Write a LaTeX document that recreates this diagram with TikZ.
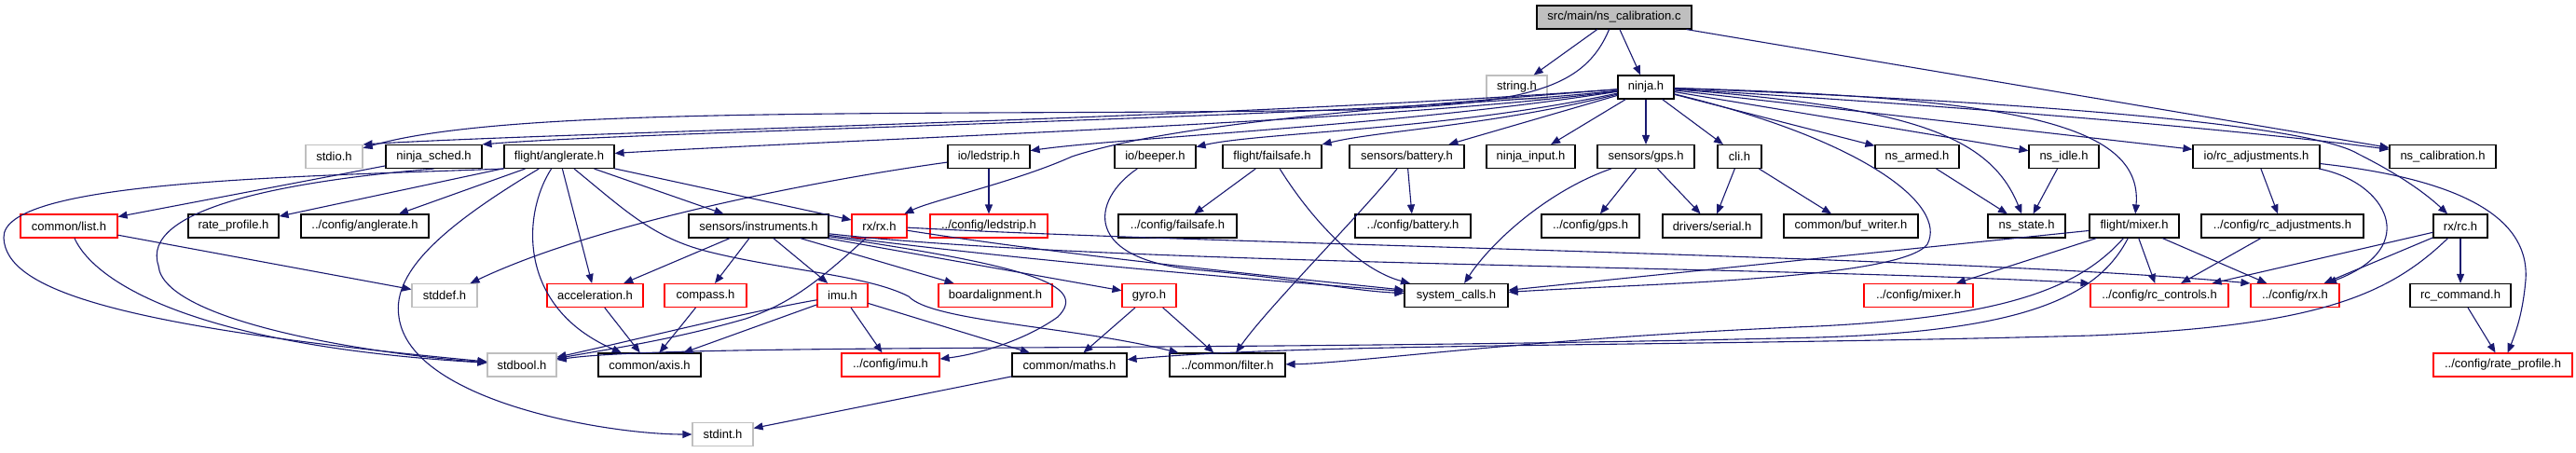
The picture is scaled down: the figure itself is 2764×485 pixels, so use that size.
\documentclass[tikz,border=0pt]{standalone}
\usepackage{fontspec}
\setmainfont{Liberation Sans}
\usetikzlibrary{arrows.meta}
\definecolor{dxedge}{HTML}{191970}
\definecolor{dxgray}{HTML}{BFBFBF}
\definecolor{dxred}{HTML}{FF0000}

\begin{document}
\begin{tikzpicture}[x=1pt, y=-1pt,
          hdr/.style={draw=black, fill=white, line width=1.1pt, minimum height=25pt, inner sep=0pt, font=\fontsize{13}{15}\selectfont},
          sys/.style={hdr, draw=dxgray},
          bad/.style={hdr, draw=dxred},
          dep/.style={draw=dxedge, line width=1.1pt, -{Triangle[length=10pt, width=8pt]}}]
  \useasboundingbox (0,0) rectangle (2764,485);

  \node[hdr, fill=dxgray, minimum width=166pt] (root) at (1732,18.5) {src/main/ns\_calibration.c};

  \node[sys, minimum width=65pt] (strh) at (1627.5,93.5) {string.h};
  \node[hdr, minimum width=60pt] (ninja) at (1766,93.5) {ninja.h};

  \node[sys, minimum width=61pt] (stdio) at (358.5,168) {stdio.h};
  \node[hdr, minimum width=103pt] (sched) at (465.5,168) {ninja\_sched.h};
  \node[hdr, minimum width=118pt] (anglerate) at (600,168) {flight/anglerate.h};
  \node[hdr, minimum width=88pt] (ledstrip) at (1061,168) {io/ledstrip.h};
  \node[hdr, minimum width=87pt] (beeper) at (1239.5,168) {io/beeper.h};
  \node[hdr, minimum width=106pt] (failsafe) at (1365,168) {flight/failsafe.h};
  \node[hdr, minimum width=123pt] (battery) at (1509.5,168) {sensors/battery.h};
  \node[hdr, minimum width=95pt] (input) at (1642.5,168) {ninja\_input.h};
  \node[hdr, minimum width=104pt] (gps) at (1766,168) {sensors/gps.h};
  \node[hdr, minimum width=47pt] (cli) at (1866.5,168) {cli.h};
  \node[hdr, minimum width=90pt] (armed) at (2057,168) {ns\_armed.h};
  \node[hdr, minimum width=75pt] (idle) at (2214.5,168) {ns\_idle.h};
  \node[hdr, minimum width=136pt] (rcadj) at (2421,168) {io/rc\_adjustments.h};
  \node[hdr, minimum width=114pt] (nscal) at (2621,168) {ns\_calibration.h};

  \node[bad, minimum width=104pt] (list) at (74,242.5) {common/list.h};
  \node[hdr, minimum width=97pt] (rateprof) at (250.5,242.5) {rate\_profile.h};
  \node[hdr, minimum width=137pt] (cfganglerate) at (391.5,242.5) {../config/anglerate.h};
  \node[hdr, minimum width=150pt] (instr) at (814,242.5) {sensors/instruments.h};
  \node[bad, minimum width=59pt] (rxrx) at (943.5,242.5) {rx/rx.h};
  \node[bad, minimum width=126pt] (cfgledstrip) at (1061,242.5) {../config/ledstrip.h};
  \node[hdr, minimum width=127pt] (cfgfailsafe) at (1263.5,242.5) {../config/failsafe.h};
  \node[hdr, minimum width=124pt] (cfgbattery) at (1516,242.5) {../config/battery.h};
  \node[hdr, minimum width=105pt] (cfggps) at (1706.5,242.5) {../config/gps.h};
  \node[hdr, minimum width=106pt] (serial) at (1837,242.5) {drivers/serial.h};
  \node[hdr, minimum width=144pt] (bufwriter) at (1986,242.5) {common/buf\_writer.h};
  \node[hdr, minimum width=83pt] (nsstate) at (2174.5,242.5) {ns\_state.h};
  \node[hdr, minimum width=96pt] (mixer) at (2290,242.5) {flight/mixer.h};
  \node[hdr, minimum width=174pt] (cfgrcadj) at (2449,242.5) {../config/rc\_adjustments.h};
  \node[hdr, minimum width=58pt] (rxrc) at (2640,242.5) {rx/rc.h};

  \node[sys, minimum width=70pt] (stddef) at (477,317) {stddef.h};
  \node[bad, minimum width=103pt] (accel) at (638.5,317) {acceleration.h};
  \node[bad, minimum width=88pt] (compass) at (757,317) {compass.h};
  \node[bad, minimum width=54pt] (imu) at (904,317) {imu.h};
  \node[bad, minimum width=122pt] (boardalign) at (1068,317) {boardalignment.h};
  \node[bad, minimum width=58pt] (gyro) at (1233,317) {gyro.h};
  \node[hdr, minimum width=111pt] (syscalls) at (1562.5,317) {system\_calls.h};
  \node[bad, minimum width=117pt] (cfgmixer) at (2058.5,317) {../config/mixer.h};
  \node[bad, minimum width=148pt] (rccontrols) at (2317,317) {../config/rc\_controls.h};
  \node[bad, minimum width=95pt] (cfgrx) at (2462.5,317) {../config/rx.h};
  \node[hdr, minimum width=108pt] (rccommand) at (2640,317) {rc\_command.h};

  \node[sys, minimum width=74pt] (stdbool) at (560,391.5) {stdbool.h};
  \node[hdr, minimum width=110pt] (axis) at (697,391.5) {common/axis.h};
  \node[bad, minimum width=105pt] (cfgimu) at (955.5,391.5) {../config/imu.h};
  \node[hdr, minimum width=123pt] (maths) at (1147.5,391.5) {common/maths.h};
  \node[hdr, minimum width=124pt] (filter) at (1317,391.5) {../common/filter.h};
  \node[bad, minimum width=149pt] (cfgrateprof) at (2685.5,391.5) {../config/rate\_profile.h};

  \node[sys, minimum width=65pt] (stdint) at (775.5,466) {stdint.h};

  \draw[dep] (root) -- (strh);
  \draw[dep] (root) -- (ninja);
  \draw[dep] (root) -- (nscal);
  \draw[dep] (root) .. controls (1700,95) and (1640,112) .. (1450,118) .. controls (1000,125) and (550,112) .. (stdio);

  \draw[dep] (ninja) .. controls (1300,128) and (600,142) .. (stdio.north east);
  \draw[dep] (ninja) .. controls (1500,125) and (700,140) .. (sched.north east);
  \draw[dep] (ninja) .. controls (1500,130) and (900,150) .. (anglerate);
  \draw[dep] (ninja) .. controls (1500,135) and (1200,148) .. (ledstrip);
  \draw[dep] (ninja) .. controls (1550,140) and (1350,142) .. (beeper);
  \draw[dep] (ninja) .. controls (1600,135) and (1480,140) .. (failsafe);
  \draw[dep] (ninja) -- (battery);
  \draw[dep] (ninja) -- (input);
  \draw[dep] (ninja) -- (gps);
  \draw[dep] (ninja) -- (cli);
  \draw[dep] (ninja) -- (armed);
  \draw[dep] (ninja) -- (idle);
  \draw[dep] (ninja) -- (rcadj);
  \draw[dep] (ninja) .. controls (2200,120) and (2450,145) .. (nscal);
  \draw[dep] (ninja) .. controls (2050,115) and (2135,145) .. (nsstate);
  \draw[dep] (ninja) .. controls (2150,105) and (2300,130) .. (mixer);
  \draw[dep] (ninja) .. controls (2200,110) and (2480,135) .. (2530,165) .. controls (2570,185) and (2600,205) .. (rxrc);
  \draw[dep] (ninja) .. controls (2000,150) and (2090,220) .. (2068,262) .. controls (2040,300) and (1750,305) .. (syscalls);
  \draw[dep] (ninja) .. controls (1450,118) and (1250,135) .. (1150,168) .. controls (1090,195) and (1000,215) .. (rxrx);

  \draw[dep] (sched) -- (list);
  \draw[dep] (sched.south) .. controls (300,195) and (150,225) .. (170,285) .. controls (175,345) and (400,380) .. (stdbool);

  \draw[dep] (anglerate.south west) .. controls (300,190) and (2,195) .. (4,255) .. controls (6,310) and (120,350) .. (stdbool);
  \draw[dep] (anglerate) -- (rateprof);
  \draw[dep] (anglerate) -- (cfganglerate);
  \draw[dep] (anglerate) -- (accel);
  \draw[dep] (anglerate) -- (instr);
  \draw[dep] (anglerate) -- (rxrx);
  \draw[dep] (anglerate) .. controls (560,230) and (555,330) .. (axis);
  \draw[dep] (anglerate) .. controls (480,240) and (420,290) .. (428,340) .. controls (440,430) and (650,466) .. (stdint);
  \draw[dep] (anglerate) .. controls (670,225) and (700,255) .. (760,270) .. controls (840,290) and (930,295) .. (975,318) .. controls (1000,345) and (1150,350) .. (filter);

  \draw[dep] (ledstrip) -- (cfgledstrip);
  \draw[dep] (ledstrip) .. controls (900,190) and (650,235) .. (stddef);
  \draw[dep] (beeper) .. controls (1170,215) and (1160,280) .. (1290,290) .. controls (1400,300) and (1450,312) .. (syscalls);
  \draw[dep] (failsafe) -- (cfgfailsafe);
  \draw[dep] (failsafe) .. controls (1410,240) and (1460,290) .. (syscalls);
  \draw[dep] (battery) -- (cfgbattery);
  \draw[dep] (battery) .. controls (1460,230) and (1360,330) .. (filter);
  \draw[dep] (gps) -- (cfggps);
  \draw[dep] (gps) -- (serial);
  \draw[dep] (gps) .. controls (1660,205) and (1600,260) .. (syscalls);
  \draw[dep] (cli) -- (serial);
  \draw[dep] (cli) -- (bufwriter);
  \draw[dep] (armed) -- (nsstate);
  \draw[dep] (idle) -- (nsstate);
  \draw[dep] (rcadj) -- (cfgrcadj);
  \draw[dep] (rcadj) .. controls (2560,195) and (2600,265) .. (cfgrx);
  \draw[dep] (rcadj) .. controls (2620,190) and (2715,225) .. (2710,300) .. controls (2707,335) and (2700,355) .. (cfgrateprof);

  \draw[dep] (list) .. controls (100,300) and (200,370) .. (stdbool);
  \draw[dep] (list) -- (stddef);

  \draw[dep] (instr) -- (accel);
  \draw[dep] (instr) -- (compass);
  \draw[dep] (instr) -- (imu);
  \draw[dep] (instr) -- (boardalign);
  \draw[dep] (instr) -- (gyro);
  \draw[dep] (instr) .. controls (1100,280) and (1350,300) .. (syscalls);
  \draw[dep] (instr) .. controls (1200,285) and (1900,285) .. (rccontrols.north west);
  \draw[dep] (instr) .. controls (1100,285) and (1170,305) .. (1135,340) .. controls (1100,365) and (1050,380) .. (cfgimu);

  \draw[dep] (rxrx) .. controls (1150,275) and (1400,300) .. (syscalls);
  \draw[dep] (rxrx) .. controls (1300,262) and (2100,275) .. (cfgrx.north west);
  \draw[dep] (rxrx) .. controls (880,300) and (850,325) .. (800,342) .. controls (720,365) and (650,375) .. (stdbool);

  \draw[dep] (mixer) -- (cfgmixer);
  \draw[dep] (mixer) -- (rccontrols);
  \draw[dep] (mixer) -- (cfgrx);
  \draw[dep] (mixer) -- (syscalls);
  \draw[dep] (mixer) .. controls (2230,310) and (2150,340) .. (1950,350) .. controls (1650,362) and (1450,390) .. (filter);
  \draw[dep] (mixer) .. controls (2250,320) and (2170,355) .. (1950,362) .. controls (1300,378) and (720,368) .. (stdbool);

  \draw[dep] (rxrc) -- (rccommand);
  \draw[dep] (rxrc) -- (rccontrols);
  \draw[dep] (rxrc) -- (cfgrx);
  \draw[dep] (rxrc) .. controls (2560,320) and (2480,350) .. (2244,360) .. controls (1800,372) and (1400,368) .. (maths);
  \draw[dep] (cfgrcadj) -- (rccontrols);
  \draw[dep] (rccommand) -- (cfgrateprof);

  \draw[dep] (accel) -- (axis);
  \draw[dep] (compass) -- (axis);
  \draw[dep] (imu) .. controls (800,335) and (680,365) .. (stdbool);
  \draw[dep] (imu) -- (axis);
  \draw[dep] (imu) -- (cfgimu);
  \draw[dep] (imu) -- (maths);
  \draw[dep] (gyro) -- (maths);
  \draw[dep] (gyro) -- (filter);
  \draw[dep] (maths) -- (stdint);
\end{tikzpicture}
\end{document}
